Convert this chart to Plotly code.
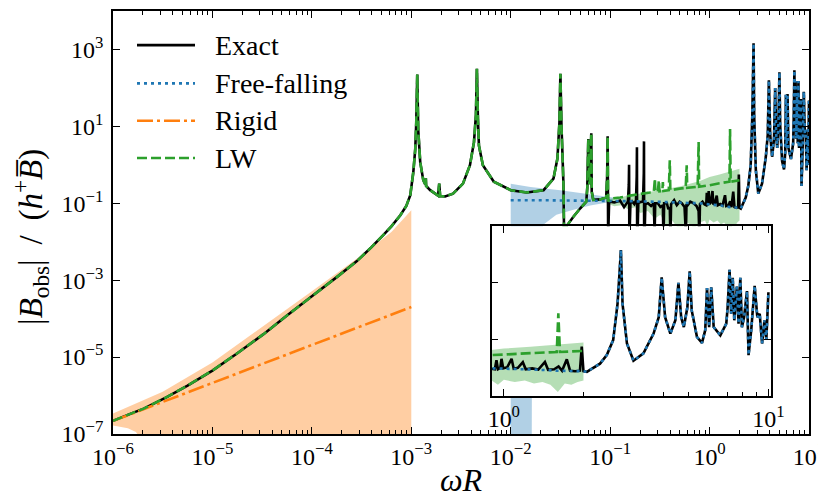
import plotly.graph_objects as go

# ---------------- data ----------------
# Exact and LW coincide at low frequency
shared_low_x = [1.0e-6, 1.58e-6, 2.04e-6, 3.47e-6, 5.62e-6, 1.0e-5, 1.78e-5, 3.24e-5, 5.62e-5, 1.0e-4,
                1.78e-4, 2.82e-4, 3.98e-4, 5.25e-4, 6.31e-4, 7.76e-4, 8.91e-4, 9.77e-4,
                1.047e-3, 1.096e-3, 1.122e-3, 1.148e-3, 1.175e-3, 1.23e-3, 1.32e-3, 1.38e-3, 1.40e-3, 1.41e-3,
                1.55e-3, 1.86e-3, 1.91e-3, 1.95e-3, 2.19e-3, 2.63e-3, 3.31e-3, 3.89e-3, 4.27e-3, 4.47e-3,
                4.57e-3, 4.68e-3, 4.79e-3, 5.25e-3, 6.76e-3, 1.0e-2, 1.45e-2, 2.14e-2, 2.69e-2, 2.95e-2,
                3.09e-2, 3.16e-2, 3.24e-2, 3.31e-2, 3.39e-2, 3.47e-2, 3.63e-2, 4.27e-2, 5.01e-2, 5.75e-2,
                5.89e-2, 6.03e-2, 6.17e-2, 6.31e-2, 6.46e-2, 6.53e-2, 6.76e-2, 7.94e-2, 9.12e-2, 9.33e-2,
                9.44e-2]
shared_low_y = [2.19e-7, 3.55e-7, 4.57e-7, 9.12e-7, 1.82e-6, 4.47e-6, 1.26e-5, 3.89e-5, 1.20e-4, 3.80e-4,
                1.20e-3, 3.09e-3, 7.24e-3, 1.51e-2, 2.51e-2, 4.90e-2, 8.51e-2, 0.162,
                0.631, 2.51, 12.6, 224, 7.94, 1.17, 0.398, 0.316, 0.447, 0.282,
                0.219, 0.158, 0.324, 0.155, 0.151, 0.178, 0.324, 0.977, 3.89, 20.0,
                316, 15.8, 3.16, 0.977, 0.363, 0.219, 0.191, 0.219, 0.437, 1.45,
                12.6, 234, 10.0, 2.14, 0.316, 3.16e-3, 2.51e-2, 4.47e-2, 7.41e-2, 0.110,
                0.251, 4.68, 0.316, 0.398, 6.61, 0.200, 0.123, 0.126, 0.141, 0.501,
                5.50]

exact_mid_x = [9.55e-2, 9.77e-2, 0.110, 0.126, 0.138, 0.151, 0.154, 0.155, 0.156, 0.160,
               0.166, 0.175, 0.182, 0.185, 0.186, 0.187, 0.192, 0.200, 0.214, 0.218,
               0.219, 0.220, 0.226, 0.240, 0.258, 0.275, 0.280, 0.284, 0.302, 0.320,
               0.339, 0.344, 0.349, 0.372, 0.385, 0.398, 0.404, 0.410, 0.440, 0.468,
               0.500, 0.525, 0.560, 0.578, 0.586, 0.603, 0.640, 0.692, 0.740, 0.776,
               0.790, 0.800, 0.850, 0.891, 0.925, 0.938, 0.950, 0.970, 0.980, 0.995,
               1.03, 1.07, 1.09, 1.13, 1.18, 1.21, 1.28, 1.35, 1.43, 1.47,
               1.55, 1.61, 1.66, 1.73, 1.78, 1.86, 1.94, 1.97, 2.00, 2.06]
exact_mid_y = [1.26e-2, 0.112, 0.105, 0.117, 7.94e-2, 0.112, 0.3, 1.0, 1.0e-2, 0.100,
               0.112, 0.095, 0.120, 0.5, 2.88, 6.31e-3, 0.100, 0.107, 0.112, 0.6,
               4.07, 5.01e-3, 0.095, 0.100, 0.085, 0.100, 1.58e-2, 0.100, 0.100, 0.080,
               8.91e-2, 1.0e-2, 0.100, 0.100, 0.070, 7.94e-2, 1.26e-2, 0.095, 0.120, 8.91e-2,
               0.110, 0.100, 0.080, 1.58e-2, 0.095, 8.91e-2, 0.110, 0.100, 0.085, 6.31e-2,
               1.26e-2, 0.095, 0.110, 9.33e-2, 8.91e-2, 0.186, 8.91e-2, 0.100, 0.209, 9.55e-2,
               0.105, 0.209, 9.33e-2, 0.100, 0.158, 8.91e-2, 9.55e-2, 8.71e-2, 0.162, 8.51e-2,
               8.91e-2, 0.112, 7.94e-2, 0.200, 7.94e-2, 7.59e-2, 7.94e-2, 0.562, 7.59e-2, 7.24e-2]

# Exact and Free-falling coincide at high frequency
high_x = [2.31, 2.45, 2.59, 2.69, 2.74, 2.77, 2.81, 2.92, 3.09, 3.37,
          3.68, 3.85, 3.95, 4.07, 4.26, 4.45, 4.57, 4.68, 4.79, 4.94,
          5.04, 5.13, 5.37, 5.61, 5.77, 5.86, 5.97, 6.08, 6.21, 6.58,
          6.93, 7.01, 7.13, 7.23, 7.33, 7.43, 7.60, 7.71, 7.83, 7.94,
          8.09, 8.30, 8.41, 8.61, 8.87, 9.08, 9.27, 9.46, 9.66, 9.82, 10.0]
high_y = [0.141, 0.282, 0.955, 18.2, 269, 1445, 18.2, 0.724, 0.178, 0.324,
          1.62, 6.17, 158, 6.17, 1.62, 4.79, 100, 6.17, 2.75, 13.8,
          257, 10.7, 1.23, 0.759, 2.14, 66.1, 2.75, 69.2, 2.75, 1.41,
          3.63, 13.2, 288, 8.13, 151, 4.79, 74.1, 3.63, 151, 2.75,
          6.17, 51.3, 0.282, 2.14, 79.4, 6.17, 8.13, 0.724, 4.79, 1.0, 46.8]

lw_tail_x = [9.55e-2, 0.100, 0.126, 0.158, 0.200, 0.251, 0.275, 0.282, 0.285, 0.302,
             0.309, 0.313, 0.335, 0.339, 0.343, 0.389, 0.398, 0.403, 0.501, 0.575,
             0.589, 0.596, 0.759, 0.776, 0.785, 1.0, 1.26, 1.585, 1.607, 1.63, 2.0]
lw_tail_y = [0.112, 0.132, 0.141, 0.158, 0.174, 0.191, 0.200, 0.437, 0.200, 0.204,
             0.398, 0.204, 0.209, 0.355, 0.209, 0.219, 1.32, 0.219, 0.240, 0.251,
             0.977, 0.251, 0.269, 3.89, 0.269, 0.295, 0.331, 0.363, 8.51, 0.363, 0.398]

free_low_x = [0.01, 0.02, 0.05, 0.1, 0.2, 0.4, 0.6, 0.8, 1.0, 1.3, 1.6, 2.0, 2.06]
free_low_y = [0.120, 0.120, 0.117, 0.115, 0.112, 0.107, 0.102, 0.100, 0.0933, 0.0871, 0.0794, 0.0759, 0.0724]

rigid_x = [1e-6, 1e-3]
rigid_y = [2.19e-7, 2.0e-4]

# uncertainty bands
rb_upper_x = [1e-6, 3.16e-6, 1e-5, 3.16e-5, 1e-4, 3.16e-4, 6.31e-4, 1e-3]
rb_upper_y = [3.39e-7, 1.26e-6, 7.24e-6, 6.03e-5, 5.13e-4, 4.47e-3, 1.78e-2, 6.61e-2]
rb_lower_x = [1e-6, 1.41e-6, 1.7e-6, 2.0e-6, 2.2e-6, 1e-3]
rb_lower_y = [1.66e-7, 1.41e-7, 1.12e-7, 6.3e-8, 1e-9, 1e-9]

fb_upper_x = [0.01, 0.0158, 0.0316, 0.0562, 0.107]
fb_upper_y = [0.324, 0.263, 0.219, 0.178, 0.141]
fb_lower_x = [0.01, 0.0162, 0.0164, 0.0170, 0.0191, 0.0214, 0.0288, 0.0427, 0.0631, 0.107]
fb_lower_y = [1e-9, 1e-9, 1e-4, 1e-3, 1e-2, 0.0282, 0.0501, 0.0676, 0.0871, 0.112]

lwb_upper_x = [0.0923, 0.126, 0.2, 0.316, 0.5, 0.8, 1.0, 1.26, 1.58, 2.0]
lwb_upper_y = [0.126, 0.145, 0.178, 0.219, 0.275, 0.380, 0.479, 0.562, 0.676, 0.794]
lwb_lower_x = [0.0923, 0.11, 0.13, 0.15, 0.18, 0.2, 0.24, 0.28, 0.32, 0.37,
               0.42, 0.5, 0.6, 0.7, 0.8, 0.9, 0.95, 1.0, 1.1, 1.2,
               1.3, 1.4, 1.5, 1.6, 1.65, 1.7, 1.8, 1.9, 2.0]
lwb_lower_y = [0.1, 0.0832, 0.0891, 0.0708, 0.0794, 0.0562, 0.0631, 0.0398, 0.0501, 0.0251,
               0.0355, 0.0200, 0.0316, 0.0224, 0.0316, 0.0355, 0.0251, 0.0380, 0.0316, 0.0355,
               0.0282, 0.0316, 0.0251, 0.0141, 0.0200, 0.0282, 0.0251, 0.0316, 0.0355]

legend_labels = ["Exact", "Free-falling", "Rigid", "LW"]
main_xticks = [1e-6, 1e-5, 1e-4, 1e-3, 1e-2, 1e-1, 1e0, 1e1]
main_xticktext = ["10<sup>−6</sup>", "10<sup>−5</sup>", "10<sup>−4</sup>", "10<sup>−3</sup>",
                  "10<sup>−2</sup>", "10<sup>−1</sup>", "10<sup>0</sup>", "10<sup>1</sup>"]
main_yticks = [1e-7, 1e-5, 1e-3, 1e-1, 1e1, 1e3]
main_yticktext = ["10<sup>−7</sup>", "10<sup>−5</sup>", "10<sup>−3</sup>", "10<sup>−1</sup>",
                  "10<sup>1</sup>", "10<sup>3</sup>"]
inset_xticks = [1, 10]
inset_xticktext = ["10<sup>0</sup>", "10<sup>1</sup>"]

# ---------------- assemble series ----------------
exact_x = shared_low_x + exact_mid_x + high_x
exact_y = shared_low_y + exact_mid_y + high_y
lw_x = shared_low_x + lw_tail_x
lw_y = shared_low_y + lw_tail_y
free_x = free_low_x + high_x
free_y = free_low_y + high_y

BLACK = "#000000"
BLUE = "#1f77b4"
ORANGE = "#ff7f0e"
GREEN = "#2ca02c"
LWID = 2.6
DOT = "3px,4px"
DASH = "10px,4px"
DASHDOT = "16px,4px,3px,4px"

# the page body has an 8px margin: the figure is sized so that it ends at 826x497
OFF = 8
W, H = 826 - OFF, 497 - OFF
PLOT_L, PLOT_R, PLOT_T, PLOT_B = 113, 809, 9, 434   # in window pixels
ML, MR, MT = PLOT_L - OFF, (OFF + W) - PLOT_R, PLOT_T - OFF
MB = (OFF + H) - PLOT_B
PW, PH = PLOT_R - PLOT_L, PLOT_B - PLOT_T


def px_x(px):
    return (px - PLOT_L) / PW


def px_y(py):
    return (PLOT_B - py) / PH


fig = go.Figure()


def band(xu, yu, xl, yl, color, xa, ya):
    fig.add_trace(go.Scatter(x=xu + xl[::-1], y=yu + yl[::-1], mode="lines", fill="toself",
                             fillcolor=color, line=dict(width=0), hoverinfo="skip",
                             showlegend=False, xaxis=xa, yaxis=ya))


def line(x, y, color, dash, xa, ya, name):
    fig.add_trace(go.Scatter(x=x, y=y, mode="lines", name=name,
                             line=dict(color=color, width=LWID, dash=dash, simplify=False),
                             showlegend=False, xaxis=xa, yaxis=ya))


for xa, ya in [("x", "y"), ("x2", "y2")]:
    band(rb_upper_x, rb_upper_y, rb_lower_x, rb_lower_y, "rgba(255,127,14,0.38)", xa, ya)
    band(fb_upper_x, fb_upper_y, fb_lower_x, fb_lower_y, "rgba(31,119,180,0.35)", xa, ya)
    band(lwb_upper_x, lwb_upper_y, lwb_lower_x, lwb_lower_y, "rgba(44,160,44,0.35)", xa, ya)
    line(exact_x, exact_y, BLACK, "solid", xa, ya, legend_labels[0])
    line(free_x, free_y, BLUE, DOT, xa, ya, legend_labels[1])
    line(rigid_x, rigid_y, ORANGE, DASHDOT, xa, ya, legend_labels[2])
    line(lw_x, lw_y, GREEN, DASH, xa, ya, legend_labels[3])

FONT = "Liberation Serif"
tickfont = dict(family=FONT, size=24, color="black")


def minor_vals(lo, hi):
    vals = []
    e = lo
    while e < hi:
        for m in range(2, 10):
            vals.append(m * 10.0 ** e)
        e += 1
    return vals


axis_common = dict(type="log", showgrid=False, zeroline=False, showline=True,
                   linecolor="black", linewidth=1.5, mirror="allticks", ticks="inside",
                   ticklen=7, tickwidth=1.2, tickcolor="black", tickfont=tickfont)

fig.update_layout(
    width=W, height=H, margin=dict(l=ML, r=MR, t=MT, b=MB, pad=0),
    paper_bgcolor="white", plot_bgcolor="white", showlegend=False,
    xaxis=dict(axis_common, range=[-6, 1], domain=[0, 1], anchor="y",
               tickvals=main_xticks, ticktext=main_xticktext, ticklabelstandoff=0,
               minor=dict(ticks="inside", ticklen=4, tickwidth=1, tickcolor="black",
                          tickvals=minor_vals(-6, 1))),
    yaxis=dict(axis_common, range=[-7, 4], domain=[0, 1], anchor="x",
               tickvals=main_yticks, ticktext=main_yticktext, ticklabelstandoff=3),
    xaxis2=dict(axis_common, range=[-0.0458, 1.0086],
                domain=[px_x(491.7), px_x(770.7)], anchor="y2",
                tickvals=inset_xticks, ticktext=inset_xticktext, ticklabelstandoff=0,
                minor=dict(ticks="inside", ticklen=4, tickwidth=1, tickcolor="black",
                           tickvals=minor_vals(-1, 1))),
    yaxis2=dict(axis_common, range=[-2, 4], domain=[px_y(396), px_y(225.3)], anchor="x2",
                tickvals=[1e-2, 1e0, 1e2, 1e4], showticklabels=False),
)

# axis titles
fig.add_annotation(text="<i>ωR</i>", xref="paper", yref="paper", x=px_x(461), y=px_y(480),
                   xanchor="center", yanchor="middle", showarrow=False,
                   font=dict(family=FONT, size=32, color="black"))
fig.add_annotation(text="|<i>B</i><sub>obs</sub>|\u2009\u00a0/\u00a0\u2009(<i>h</i><sup>+</sup><i>B̅</i>)",
                   xref="paper", yref="paper", x=px_x(31), y=px_y(236), textangle=-90,
                   xanchor="center", yanchor="middle", showarrow=False,
                   font=dict(family=FONT, size=33, color="black"))

# legend (drawn manually to match the sample length)
leg_rows_px = [43.3, 81.7, 119.3, 156.7]
leg_colors = [BLACK, BLUE, ORANGE, GREEN]
leg_dash = ["solid", DOT, DASHDOT, DASH]
for lab, ypx, col, dsh in zip(legend_labels, leg_rows_px, leg_colors, leg_dash):
    yp = px_y(ypx)
    fig.add_shape(type="line", xref="paper", yref="paper",
                  x0=px_x(137), x1=px_x(195), y0=yp, y1=yp,
                  line=dict(color=col, width=LWID, dash=dsh))
    fig.add_annotation(text=lab, xref="paper", yref="paper", x=px_x(213), y=yp,
                       xanchor="left", yanchor="middle", showarrow=False,
                       font=dict(family=FONT, size=28, color="black"))

fig.write_html("out.html")
